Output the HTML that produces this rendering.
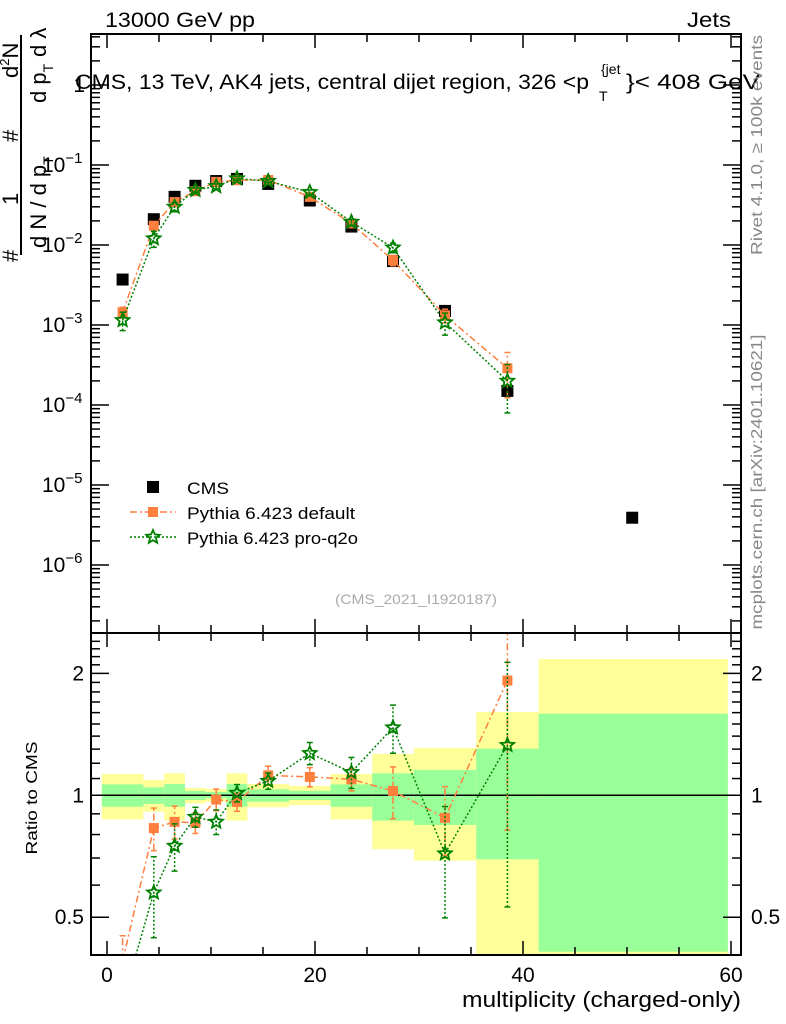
<!DOCTYPE html>
<html><head><meta charset="utf-8"><style>
html,body{margin:0;padding:0;background:#fff;width:786px;height:1024px;overflow:hidden;position:relative}
svg{display:block;font-family:"Liberation Sans",sans-serif}
</style></head><body>
<svg id="c" width="786" height="1024" viewBox="0 0 786 1024"></svg>
<script>
const xs=[1.5,4.5,6.5,8.5,10.5,12.5,15.5,19.5,23.5,27.5,32.5,38.5,50.5];
const cmsVals=[3.7e-3,0.021,0.040,0.055,0.063,0.067,0.058,0.036,0.017,0.0063,1.5e-3,1.5e-4,3.9e-6];
const defRatio=[0.39,0.83,0.86,0.855,0.976,0.963,1.12,1.11,1.095,1.025,0.88,1.92];
const defErr=[0.06,0.10,0.08,0.05,0.06,0.05,0.06,0.06,0.07,0.15,0.17,1.1];
const q2oRatio=[0.31,0.575,0.75,0.884,0.86,1.013,1.085,1.27,1.14,1.47,0.718,1.33];
const q2oErr=[0.08,0.13,0.1,0.05,0.06,0.05,0.05,0.08,0.1,0.2,0.22,0.8];
const binEdges=[-0.5,3.5,5.5,7.5,9.5,11.5,13.5,17.5,21.5,25.5,29.5,35.5,41.5,59.7];
const yelHi=[1.129,1.091,1.133,1.042,1.036,1.133,1.066,1.054,1.129,1.265,1.309,1.606,2.17];
const yelLo=[0.872,0.911,0.866,0.955,0.964,0.866,0.934,0.946,0.872,0.736,0.69,0.2,0.2];
const grnHi=[1.064,1.047,1.066,1.025,1.019,1.066,1.035,1.026,1.064,1.133,1.155,1.303,1.59];
const grnLo=[0.937,0.952,0.937,0.974,0.983,0.937,0.964,0.974,0.937,0.866,0.845,0.695,0.411];
const xTicks=[0,20,40,60];
const yDecades=[0,-1,-2,-3,-4,-5,-6];
const rTicks=[0.5,1,2];

const NS="http://www.w3.org/2000/svg";
const svg=document.getElementById('c');
function el(t,a,p){const e=document.createElementNS(NS,t);for(const k in a)e.setAttribute(k,a[k]);(p||svg).appendChild(e);return e;}
const L=91,R=741,T=34,M=633,B=955;
const X=v=>107+(v)*10.4;
const Y=v=>85-80*Math.log10(v);
const YR=v=>795.3-405*Math.log10(v);

const defs=el('defs',{});
const c1=el('clipPath',{id:'cm'},defs);el('rect',{x:L,y:T,width:R-L,height:M-T},c1);
const c2=el('clipPath',{id:'cr'},defs);el('rect',{x:L,y:M,width:R-L,height:B-M},c2);

const gR=el('g',{'clip-path':'url(#cr)'});

for(let i=0;i<yelHi.length;i++){
  const x0=X(binEdges[i]),x1=X(binEdges[i+1]);
  const y=el('rect',{x:x0,y:YR(yelHi[i]),width:x1-x0,height:YR(yelLo[i])-YR(yelHi[i]),fill:'#ffff99'},gR);
  
  const g=el('rect',{x:x0,y:YR(grnHi[i]),width:x1-x0,height:YR(grnLo[i])-YR(grnHi[i]),fill:'#99ff99'},gR);
  
}
el('line',{x1:L,x2:R,y1:YR(1),y2:YR(1),stroke:'#000','stroke-width':1.5},gR);

function star(cx,cy,r,col,parent){
  let p='';for(let k=0;k<10;k++){const a=-Math.PI/2+k*Math.PI/5;const rr=k%2?r*0.45:r;p+=(k?'L':'M')+(cx+rr*Math.cos(a)).toFixed(1)+','+(cy+rr*Math.sin(a)).toFixed(1);}
  return el('path',{d:p+'Z',fill:'none',stroke:col,'stroke-width':1.8},parent);
}
function series(ratio,err,col,dash,kind,name){
  for(const [panel,fy,val,lo,hi] of [['main',Y,i=>cmsVals[i]*ratio[i],i=>cmsVals[i]*Math.max(ratio[i]-err[i],0.01),i=>cmsVals[i]*(ratio[i]+err[i])],
                                   ['ratio',YR,i=>ratio[i],i=>Math.max(ratio[i]-err[i],0.05),i=>ratio[i]+err[i]]]){
    const g=el('g',{'clip-path':panel=='main'?'url(#cm)':'url(#cr)'});
    
    let d='';
    for(let i=0;i<ratio.length;i++){d+=(i?'L':'M')+X(xs[i]).toFixed(1)+','+fy(val(i)).toFixed(1);}
    el('path',{d,fill:'none',stroke:col,'stroke-width':1.5,'stroke-dasharray':dash},g);
    for(let i=0;i<ratio.length;i++){
      const x=X(xs[i]);
      el('line',{x1:x,x2:x,y1:fy(lo(i)),y2:fy(hi(i)),stroke:col,'stroke-width':1.5,'stroke-dasharray':dash},g);
      el('line',{x1:x-3,x2:x+3,y1:fy(lo(i)),y2:fy(lo(i)),stroke:col,'stroke-width':1.5},g);
      el('line',{x1:x-3,x2:x+3,y1:fy(hi(i)),y2:fy(hi(i)),stroke:col,'stroke-width':1.5},g);
      let m;
      if(kind=='sq') m=el('rect',{x:x-5,y:fy(val(i))-5,width:10,height:10,fill:col},g);
      else m=star(x,fy(val(i)),7,col,g);
      
    }
  }
}
const gC=el('g',{'clip-path':'url(#cm)'});

for(let i=0;i<xs.length;i++){
  const p=el('rect',{x:X(xs[i])-6,y:Y(cmsVals[i])-6,width:12,height:12,fill:'#000'},gC);
  
}
series(defRatio,defErr,'#ff7f3f','7,3,2,3','sq','pythia-default');
series(q2oRatio,q2oErr,'#008000','2,2','star','pythia-pro-q2o');

el('rect',{x:L,y:T,width:R-L,height:M-T,fill:'none',stroke:'#000','stroke-width':2});
el('rect',{x:L,y:M,width:R-L,height:B-M,fill:'none',stroke:'#000','stroke-width':2});

for(let v=0;v<=60;v+=5){
  const x=X(v),len=v%20==0?14:8;
  for(const [a,b] of [[T,M],[M,B]]){
    el('line',{x1:x,x2:x,y1:a,y2:a+len,stroke:'#000','stroke-width':1.5});
    el('line',{x1:x,x2:x,y1:b,y2:b-len,stroke:'#000','stroke-width':1.5});
  }
}
xTicks.forEach(v=>{const t=el('text',{x:X(v),y:982,'font-size':21,'text-anchor':'middle'});t.textContent=v;
  });
for(let d=0;d>=-7;d--){
  for(let k=1;k<10;k++){
    const v=k*Math.pow(10,d),y=Y(v);if(y<T||y>M)continue;
    const len=k==1?18:9;
    el('line',{x1:L,x2:L+len,y1:y,y2:y,stroke:'#000','stroke-width':1.5});
    el('line',{x1:R,x2:R-len,y1:y,y2:y,stroke:'#000','stroke-width':1.5});
  }
}
yDecades.forEach(d=>{
  const y=Y(Math.pow(10,d));
  const t=el('text',{x:d==0?85:42,y:y+7,'font-size':21,'text-anchor':d==0?'end':'start'});
  
  if(d==0){t.textContent='1';}
  else{t.textContent='10';const s=el('tspan',{dy:-9,'font-size':15},t);s.textContent=String(d).replace('-','−');}
});
for(let v=0.4;v<=2.5;v+=0.1){const y=YR(v);if(y<M||y>B)continue;
  const major=[0.5,1,2].some(m=>Math.abs(m-v)<1e-6);const len=major?18:9;
  el('line',{x1:L,x2:L+len,y1:y,y2:y,stroke:'#000','stroke-width':1.5});
  el('line',{x1:R,x2:R-len,y1:y,y2:y,stroke:'#000','stroke-width':1.5});}
rTicks.forEach(v=>{
  const a=el('text',{x:84,y:YR(v)+7,'font-size':21,'text-anchor':'end'});a.textContent=v;
  
  const b=el('text',{x:751,y:YR(v)+7,'font-size':21});b.textContent=v;
  
});
</script>
<svg width="786" height="1024" style="position:absolute;left:0;top:0;font-family:'Liberation Sans',sans-serif">
<text x="105" y="27" font-size="21" textLength="150" lengthAdjust="spacingAndGlyphs">13000 GeV pp</text>
<text x="687" y="27" font-size="21" textLength="44" lengthAdjust="spacingAndGlyphs">Jets</text>
<g>
<text x="75" y="89" font-size="21" textLength="514" lengthAdjust="spacingAndGlyphs">CMS, 13 TeV, AK4 jets, central dijet region, 326 &lt;p</text>
<text x="601" y="74" font-size="14">{jet</text>
<text x="599" y="101" font-size="14">T</text>
<text x="626" y="89" font-size="21" textLength="134" lengthAdjust="spacingAndGlyphs">}&lt; 408 GeV</text>
</g>
<g transform="rotate(-90)">
<text x="-262" y="18" font-size="22">#</text>
<text x="-205" y="18" font-size="22">1</text>
<text x="-142" y="18" font-size="22">#</text>
<text x="-78" y="18" font-size="22">d<tspan font-size="13" dy="-9">2</tspan><tspan dy="9">N</tspan></text>
<line x1="-255" x2="-35" y1="21" y2="21" stroke="#000" stroke-width="2"/>
<text x="-248" y="46" font-size="22">d N / d p<tspan font-size="14" dy="7">T</tspan></text>
<text x="-103" y="46" font-size="22">d p<tspan font-size="14" dy="7">T</tspan></text>
<text x="-57" y="46" font-size="22">d λ</text>
</g>
<text transform="translate(762,145) rotate(-90)" font-size="16" fill="#888" text-anchor="middle" textLength="220" lengthAdjust="spacingAndGlyphs">Rivet 4.1.0, ≥ 100k events</text>
<text transform="translate(762,482) rotate(-90)" font-size="16" fill="#888" text-anchor="middle" textLength="295" lengthAdjust="spacingAndGlyphs">mcplots.cern.ch [arXiv:2401.10621]</text>
<g>
<rect x="147" y="481" width="12" height="12" fill="#000"/>
<text x="187" y="494" font-size="17" textLength="42" lengthAdjust="spacingAndGlyphs">CMS</text>
<line x1="130" x2="176" y1="512" y2="512" stroke="#ff7f3f" stroke-width="1.5" stroke-dasharray="7,3,2,3"/>
<rect x="148" y="507" width="10" height="10" fill="#ff7f3f"/>
<text x="187" y="519" font-size="17" textLength="168" lengthAdjust="spacingAndGlyphs">Pythia 6.423 default</text>
<line x1="130" x2="176" y1="537" y2="537" stroke="#008000" stroke-width="1.5" stroke-dasharray="2,2"/>
<path d="M153,530 L154.9,534.4 L159.7,534.8 L156,538 L157.1,542.7 L153,540.2 L148.9,542.7 L150,538 L146.3,534.8 L151.1,534.4Z" fill="none" stroke="#008000" stroke-width="1.8"/>
<text x="187" y="544" font-size="17" textLength="171" lengthAdjust="spacingAndGlyphs">Pythia 6.423 pro-q2o</text>
</g>
<text x="335" y="604" font-size="14" fill="#aaa" textLength="162" lengthAdjust="spacingAndGlyphs">(CMS_2021_I1920187)</text>
<text transform="translate(37,798) rotate(-90)" font-size="16" text-anchor="middle" textLength="113" lengthAdjust="spacingAndGlyphs">Ratio to CMS</text>
<text x="462" y="1007" font-size="22" textLength="279" lengthAdjust="spacingAndGlyphs">multiplicity (charged-only)</text>
</svg>
</body></html>
